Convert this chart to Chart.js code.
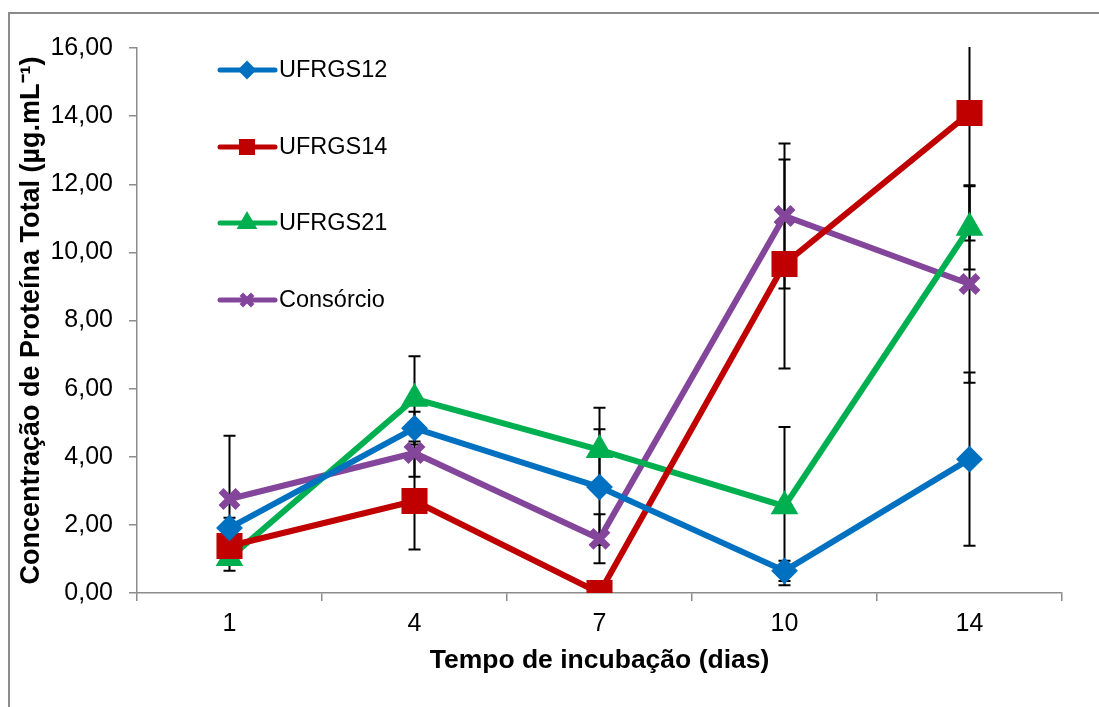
<!DOCTYPE html>
<html>
<head>
<meta charset="utf-8">
<script src="https://cdn.jsdelivr.net/npm/chart.js@4.4.0/dist/chart.umd.min.js"></script>
<style>
  html, body { margin: 0; padding: 0; background: #fff; overflow: hidden; }
  #wrap { position: relative; width: 1099px; height: 707px; }
  #frame { position: absolute; left: 8px; top: 12px; width: 1200px; height: 800px;
           border: 2px solid #8c8c8c; box-sizing: border-box; }
  canvas { position: absolute; left: 0; top: 0; }
</style>
</head>
<body>
<div id="wrap">
  <div id="frame"></div>
  <canvas id="chart"></canvas>
</div>
<script>
// dias de incubação
var dias = ["1", "4", "7", "10", "14"];

// médias (µg/mL)
var ufrgs12 = [1.91, 4.84, 3.11, 0.65, 3.93];
var ufrgs14 = [1.38, 2.70, 0.0, 9.66, 14.09];
var ufrgs21 = [1.03, 5.70, 4.20, 2.55, 10.72];
var consorcio = [2.76, 4.11, 1.59, 11.07, 9.07];

// desvios (barras de erro)
var errUfrgs12 = [0.3, 0.48, 1.70, 0.3, 2.54];
var errUfrgs14 = [0.3, 1.42, 0.0, 3.07, 3.74];
var errUfrgs21 = [0.38, 1.25, 1.24, 2.32, 1.22];
var errConsorcio = [1.86, 0.70, 0.72, 2.13, 2.90];

var FONT = "'Liberation Sans', Arial, sans-serif";

// barras de erro, desenhadas por baixo das séries
var errorBars = {
  id: "errorBars",
  beforeDatasetsDraw: function (chart) {
    var ctx = chart.ctx;
    var area = chart.chartArea;
    var yScale = chart.scales.y;
    ctx.save();
    ctx.beginPath();
    ctx.rect(area.left, area.top - 1, area.right - area.left, area.bottom - area.top + 2);
    ctx.clip();
    ctx.strokeStyle = "#000";
    ctx.lineWidth = 2;
    chart.data.datasets.forEach(function (ds, i) {
      var meta = chart.getDatasetMeta(i);
      meta.data.forEach(function (pt, j) {
        var e = ds.errors[j];
        if (!e) return;
        var v = ds.data[j];
        var yTop = yScale.getPixelForValue(v + e);
        var yBot = yScale.getPixelForValue(v - e);
        ctx.beginPath();
        ctx.moveTo(pt.x, yTop);
        ctx.lineTo(pt.x, yBot);
        ctx.moveTo(pt.x - 6, yTop);
        ctx.lineTo(pt.x + 6, yTop);
        ctx.moveTo(pt.x - 6, yBot);
        ctx.lineTo(pt.x + 6, yBot);
        ctx.stroke();
      });
    });
    ctx.restore();
  }
};

// legenda dentro da área do gráfico
var legendaInterna = {
  id: "legendaInterna",
  afterDraw: function (chart) {
    var ctx = chart.ctx;
    var rows = [70, 147, 223, 300];
    var sizes = [8, 10, 10, 8];
    ctx.save();
    chart.data.datasets.forEach(function (ds, i) {
      var y = rows[i];
      ctx.strokeStyle = ds.borderColor;
      ctx.fillStyle = ds.borderColor;
      ctx.lineWidth = 5;
      ctx.lineCap = "round";
      ctx.beginPath();
      ctx.moveTo(220, y);
      ctx.lineTo(275, y);
      ctx.stroke();
      ctx.lineCap = "butt";
      ctx.lineWidth = ds.pointStyle === "crossRot" ? 5 : 2;
      Chart.helpers.drawPoint(ctx, {
        pointStyle: ds.pointStyle,
        radius: sizes[i],
        rotation: 0,
        borderWidth: ctx.lineWidth
      }, 247, y);
      ctx.fillStyle = "#000";
      ctx.font = "23.5px " + FONT;
      ctx.textBaseline = "middle";
      ctx.textAlign = "left";
      ctx.fillText(ds.label, 279, y + 1);
    });
    ctx.restore();
  }
};

function serie(label, data, errors, color, style, radius, bw) {
  return {
    label: label,
    data: data,
    errors: errors,
    borderColor: color,
    backgroundColor: color,
    borderWidth: 6,
    pointStyle: style,
    pointRadius: radius,
    pointBorderWidth: bw,
    pointBackgroundColor: color,
    pointBorderColor: color,
    tension: 0,
    fill: false
  };
}

var ctx = document.getElementById("chart").getContext("2d");
var grafico = new Chart(ctx, {
  type: "line",
  data: {
    labels: dias,
    datasets: [
      serie("UFRGS12", ufrgs12, errUfrgs12, "#0070C0", "rectRot", 12, 2),
      serie("UFRGS14", ufrgs14, errUfrgs14, "#C00000", "rect", 17, 2),
      serie("UFRGS21", ufrgs21, errUfrgs21, "#00B050", "triangle", 14, 2),
      serie("Consórcio", consorcio, errConsorcio, "#83469B", "crossRot", 12, 7)
    ]
  },
  options: {
    responsive: true,
    maintainAspectRatio: false,
    animation: false,
    events: [],
    layout: { padding: { left: 0, top: 48, right: 37, bottom: 0 } },
    plugins: {
      legend: { display: false },
      tooltip: { enabled: false }
    },
    scales: {
      x: {
        offset: true,
        grid: {
          offset: true,
          drawOnChartArea: false,
          drawTicks: true,
          tickLength: 8,
          color: "#8c8c8c",
          lineWidth: 1.5
        },
        border: { display: true, color: "#8c8c8c", width: 1.5 },
        ticks: { color: "#000", font: { family: FONT, size: 25 }, padding: 8 },
        title: {
          display: true,
          text: "Tempo de incubação (dias)",
          color: "#000",
          font: { family: FONT, size: 26.5, weight: "bold" },
          padding: 30
        },
        afterFit: function (scale) { scale.height = 114; }
      },
      y: {
        min: 0,
        max: 16,
        grid: {
          drawOnChartArea: false,
          drawTicks: true,
          tickLength: 8,
          color: "#8c8c8c",
          lineWidth: 1.5
        },
        border: { display: true, color: "#8c8c8c", width: 1.5 },
        ticks: {
          stepSize: 2,
          color: "#000",
          font: { family: FONT, size: 25 },
          padding: 16,
          callback: function (v) { return v.toFixed(2).replace(".", ","); }
        },
        title: {
          display: true,
          text: "Concentração de Proteína Total (µg.mL⁻¹)",
          color: "#000",
          font: { family: FONT, size: 27, weight: "bold" },
          padding: 15
        },
        afterFit: function (scale) { scale.width = 137; }
      }
    }
  },
  plugins: [errorBars, legendaInterna]
});
</script>
</body>
</html>
